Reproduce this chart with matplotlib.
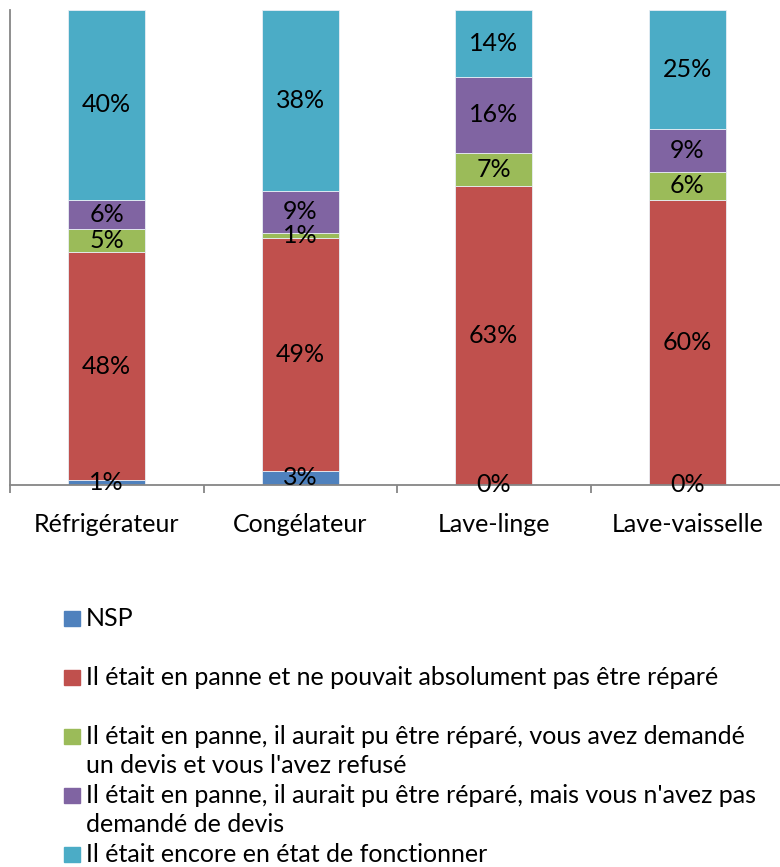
import numpy as np
import matplotlib.pyplot as plt
from matplotlib.patches import Rectangle

plt.rcParams['font.family'] = ['Lato', 'DejaVu Sans']

categories = ['Réfrigérateur', 'Congélateur', 'Lave-linge', 'Lave-vaisselle']
series_names = [
    'NSP',
    'Il était en panne et ne pouvait absolument pas être réparé',
    'Il était en panne, il aurait pu être réparé, vous avez demandé\nun devis et vous l\'avez refusé',
    'Il était en panne, il aurait pu être réparé, mais vous n\'avez pas\ndemandé de devis',
    'Il était encore en état de fonctionner',
]
nsp = [1, 3, 0, 0]
panne_irreparable = [48, 49, 63, 60]
devis_refuse = [5, 1, 7, 6]
pas_de_devis = [6, 9, 16, 9]
fonctionnel = [40, 38, 14, 25]
series = [nsp, panne_irreparable, devis_refuse, pas_de_devis, fonctionnel]
colors = ['#4F81BD', '#C0504D', '#9BBB59', '#8064A2', '#4BACC6']

W, H = 780, 867
FS = 18
fig = plt.figure(figsize=(W / 100, H / 100), dpi=100)
ax = fig.add_axes([10 / W, (H - 485) / H, 774 / W, 475 / H])

x = np.arange(len(categories))
bottom = np.zeros(len(categories))
for vals, col in zip(series, colors):
    vals = np.array(vals, dtype=float)
    ax.bar(x, vals, 0.4, bottom=bottom, color=col, edgecolor='#e8eef5',
           linewidth=0.6, zorder=2)
    for xi, b, v in zip(x, bottom, vals):
        ax.text(xi, b + v / 2, f'{int(v)}%', ha='center', va='center',
                fontsize=FS, color='black', zorder=3)
    bottom += vals

ax.set_xlim(-0.5, 3.5)
ax.set_ylim(0, 100)
for s in ['top', 'right']:
    ax.spines[s].set_visible(False)
for s in ['left', 'bottom']:
    ax.spines[s].set_color('#868686')
    ax.spines[s].set_linewidth(1.3)
ax.set_yticks([])
ax.set_xticks(x)
ax.set_xticklabels(categories, fontsize=FS)
ax.tick_params(axis='x', which='major', length=0, pad=20)
ax.set_xticks(np.arange(-0.5, 4.0, 1.0), minor=True)
ax.tick_params(axis='x', which='minor', length=6, width=1.3, color='#868686')

# legend, drawn by hand to keep the original spacing
for i, (name, col) in enumerate(zip(series_names, colors)):
    base = 626 + 59 * i
    fig.patches.append(Rectangle((64 / W, (H - base) / H), 16 / W, 15 / H,
                                 transform=fig.transFigure, color=col))
    for k, line in enumerate(name.split('\n')):
        fig.text(86 / W, (H - base - 29 * k) / H, line, ha='left',
                 va='baseline', fontsize=FS)

fig.savefig('out.png', dpi=100)
